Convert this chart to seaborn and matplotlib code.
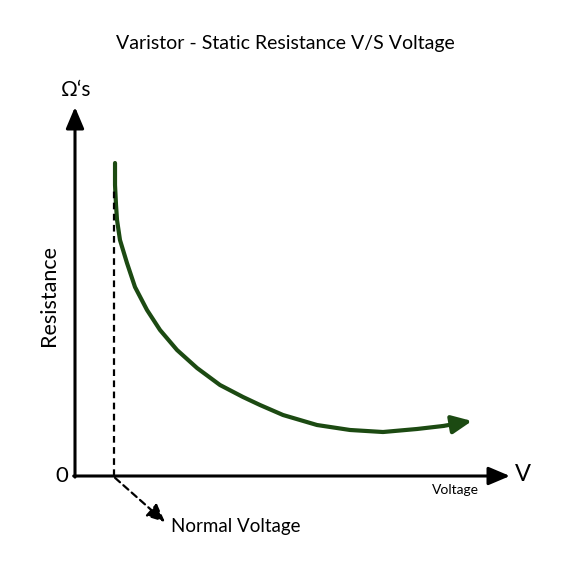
import pandas as pd
import matplotlib.pyplot as plt
import seaborn as sns

# curve (arbitrary units, origin at axis corner)
voltage = [0.920, 0.920, 0.943, 0.966, 1.034, 1.195, 1.379, 1.655, 1.954, 2.345, 2.805,
           3.333, 3.862, 4.253, 4.782, 5.563, 6.322, 7.080, 7.862, 8.460, 9.126]
resistance = [8.482, 7.886, 7.344, 6.938, 6.396, 5.772, 5.122, 4.499, 3.957, 3.415, 2.927,
              2.466, 2.141, 1.924, 1.653, 1.382, 1.247, 1.192, 1.274, 1.355, 1.491]

normal_voltage = 0.90
normal_top = 7.75
axis_max = 10

title = 'Varistor - Static Resistance V/S Voltage'
curve_color = '#1c4a12'

sns.set_style('white')
plt.rcParams['font.family'] = ['Lato', 'DejaVu Sans']
plt.rcParams['text.color'] = 'black'

df = pd.DataFrame({'voltage': voltage, 'resistance': resistance})

fig = plt.figure(figsize=(5.74, 5.77), dpi=100)
ax = fig.add_axes([0, 0, 1, 1])
ax.set_xlim(-75 / 43.5, (574 - 75) / 43.5)
ax.set_ylim((476 - 577) / 36.9, 476 / 36.9)
ax.axis('off')

# main curve
sns.lineplot(data=df.iloc[:-1], x='voltage', y='resistance', sort=False, estimator=None,
             color=curve_color, lw=3.0, ax=ax)
ax.annotate('', xy=(voltage[-1], resistance[-1]), xytext=(voltage[-2], resistance[-2]),
            arrowprops=dict(arrowstyle='-|>,head_length=1.2,head_width=0.55',
                            color=curve_color, lw=3.0, shrinkA=0, shrinkB=0))

# axes with arrows
arrow_kw = dict(arrowstyle='-|>,head_length=1.3,head_width=0.55', color='black',
                lw=2.2, shrinkA=0, shrinkB=0)
ax.annotate('', xy=(axis_max, 0), xytext=(-0.03, 0), arrowprops=arrow_kw)
ax.annotate('', xy=(0, axis_max), xytext=(0, -0.03), arrowprops=arrow_kw)

# normal voltage marker
ax.plot([normal_voltage, normal_voltage], [0, normal_top], color='black',
        lw=1.6, ls=(0, (3, 2)))
ax.annotate('', xy=(2.07, -1.25), xytext=(normal_voltage + 0.02, -0.05),
            arrowprops=dict(arrowstyle='-|>,head_length=1.1,head_width=0.5',
                            color='black', lw=1.6, ls=(0, (3, 2)),
                            shrinkA=0, shrinkB=0))

ax.text(4.83, (476 - 44) / 36.9, title, ha='center', va='center', fontsize=14)
ax.text(-0.3, 0, '0', ha='center', va='center', fontsize=16)
ax.text(10.3, 0.05, 'V', ha='center', va='center', fontsize=17)
ax.text(8.75, -0.38, 'Voltage', ha='center', va='center', fontsize=10)
ax.text(0.02, 10.45, 'Ω‘s', ha='center', va='center', fontsize=15)
ax.text(-0.6, 4.9, 'Resistance', ha='center', va='center', fontsize=15.5, rotation=90)
ax.text(2.2, -1.36, 'Normal Voltage', ha='left', va='center', fontsize=13.5)

plt.savefig('out.png', dpi=100)
